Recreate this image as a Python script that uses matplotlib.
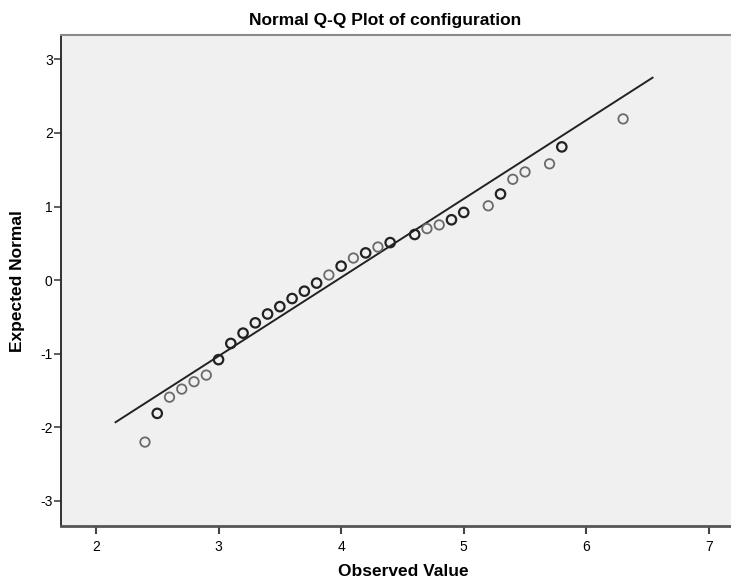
# Normal Q-Q plot of configuration (SPSS style)
import numpy as np
import matplotlib.pyplot as plt

observed = [2.4, 2.5, 2.6, 2.7, 2.8, 2.9, 3.0, 3.1, 3.2, 3.3, 3.4, 3.5, 3.6,
            3.7, 3.8, 3.9, 4.0, 4.1, 4.2, 4.3, 4.4, 4.6, 4.7, 4.8, 4.9, 5.0,
            5.2, 5.3, 5.4, 5.5, 5.7, 5.8, 6.3]
expected = [-2.20, -1.81, -1.59, -1.48, -1.38, -1.29, -1.08, -0.86, -0.72,
            -0.58, -0.46, -0.36, -0.25, -0.15, -0.04, 0.07, 0.19, 0.30, 0.37,
            0.45, 0.51, 0.62, 0.70, 0.75, 0.82, 0.92, 1.01, 1.17, 1.37, 1.47,
            1.58, 1.81, 2.19]
# cases at each value (repeated cases draw darker circles)
counts = [1, 2, 1, 1, 1, 1, 3, 2, 2, 2, 2, 2, 2, 2, 2, 1, 2, 1, 2, 1, 2, 2,
          1, 1, 2, 2, 1, 2, 1, 1, 1, 2, 1]

# reference line end points
line_x = [2.16, 6.54]
line_y = [-1.93, 2.75]

x_ticks = [2, 3, 4, 5, 6, 7]
y_ticks = [-3, -2, -1, 0, 1, 2, 3]

plt.rcParams['font.family'] = ['Liberation Sans', 'DejaVu Sans']
plt.rcParams['axes.unicode_minus'] = False

fig = plt.figure(figsize=(7.31, 5.86), dpi=100)
ax = fig.add_axes([61/731, 60/586, 670/731, 491/586])
ax.set_facecolor('#f0f0f0')

ax.plot(line_x, line_y, color='#222222', lw=1.4, zorder=2)

cols = ['#6a6a6a' if c == 1 else '#222222' for c in counts]
widths = [1.3 if c == 1 else 1.6 for c in counts]
ax.scatter(observed, expected, s=46, facecolors='none', edgecolors=cols,
           linewidths=widths, zorder=3)

ax.set_xlim(1.715, 7.18)
ax.set_ylim(-3.34, 3.33)
ax.set_xticks(x_ticks)
ax.set_yticks(y_ticks)
ax.tick_params(axis='x', direction='out', length=6, width=1.5, color='#444444',
               labelsize=10, pad=4)
ax.tick_params(axis='y', direction='out', length=5, width=1.2, color='#444444',
               labelsize=10, pad=1)

ax.spines['left'].set_color('#222222')
ax.spines['left'].set_linewidth(1.3)
ax.spines['bottom'].set_color('#555555')
ax.spines['bottom'].set_linewidth(2)
ax.spines['top'].set_color('#8a8a8a')
ax.spines['top'].set_linewidth(1.5)
ax.spines['right'].set_visible(False)

fig.text(385/731, 1 - 20/586, 'Normal Q-Q Plot of configuration',
         ha='center', va='center', fontsize=12.5, fontweight='bold')
fig.text(403/731, 1 - 571/586, 'Observed Value', ha='center', va='center',
         fontsize=12.5, fontweight='bold')
fig.text(18/731, 1 - 281/586, 'Expected Normal', ha='center', va='center',
         rotation=90, fontsize=12.5, fontweight='bold')

fig.savefig('out.png', dpi=100)
